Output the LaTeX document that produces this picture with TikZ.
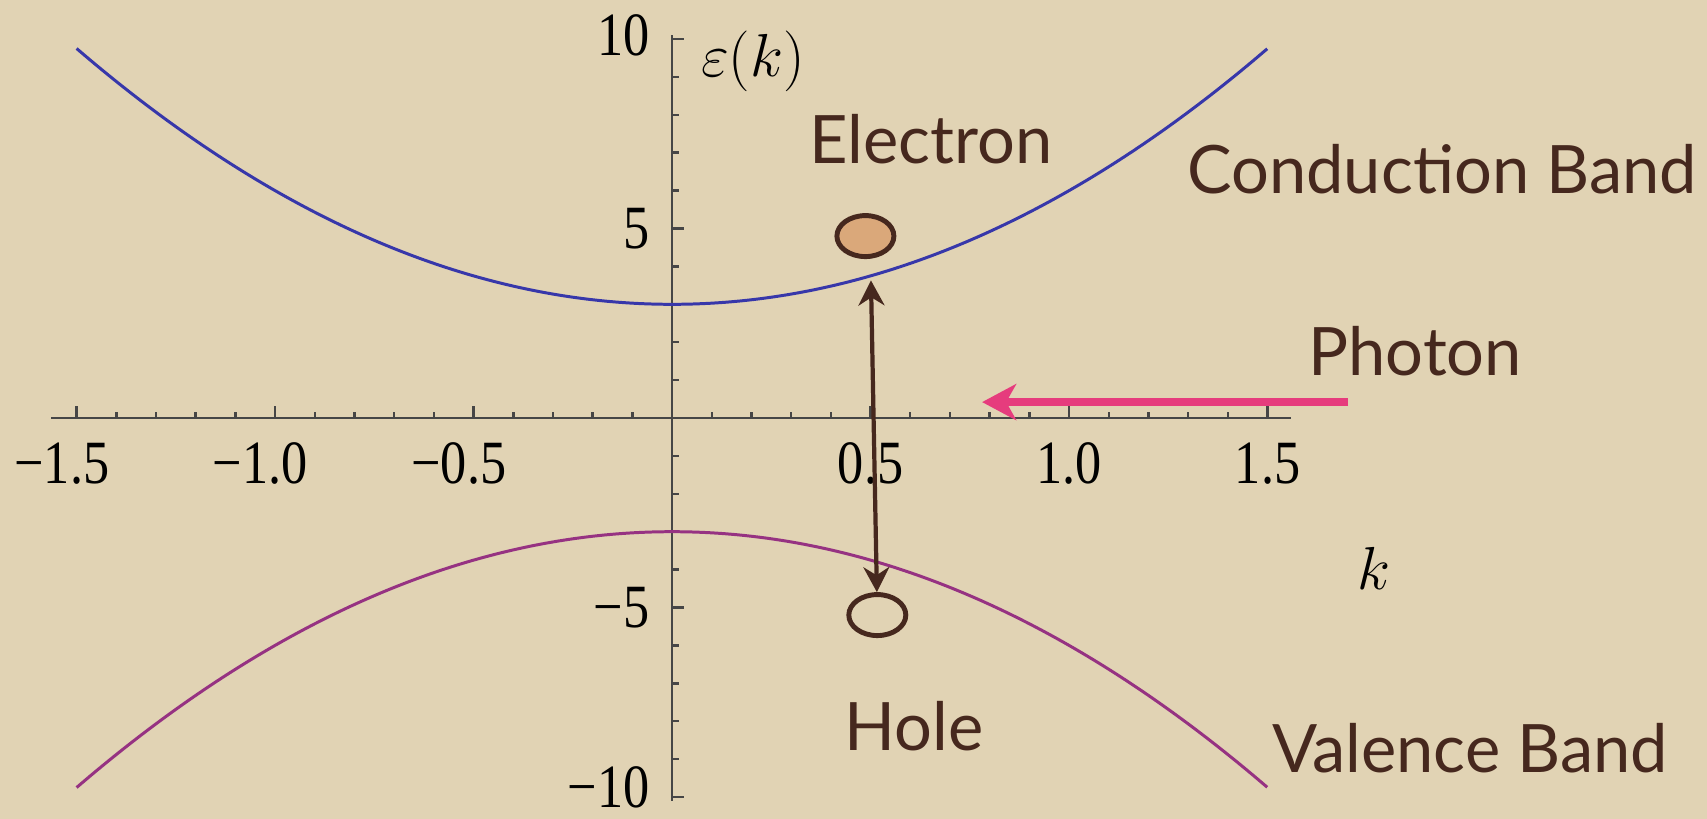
\documentclass[tikz,border=0pt]{standalone}
\usepackage[no-math]{fontspec}
\setmainfont{Liberation Serif}
\newfontfamily\handfont{Lato}
\usepackage{tikz}
\usetikzlibrary{arrows.meta,shapes.geometric}

\definecolor{paper}{RGB}{225,211,180}
\definecolor{cbandblue}{RGB}{55,55,170}
\definecolor{vbandpurple}{RGB}{150,50,130}
\definecolor{inkbrown}{RGB}{70,40,30}
\definecolor{electronfill}{RGB}{218,168,122}
\definecolor{photonpink}{RGB}{230,60,125}
\definecolor{axisgray}{RGB}{70,70,70}

\newcommand{\tnum}[1]{\scalebox{0.85}[1]{#1}}

\begin{document}
\begin{tikzpicture}[x=3.97cm, y=0.379cm,
  axisline/.style={axisgray, line width=0.7pt},
  ticklab/.style={inner sep=0pt, font=\fontsize{17.5}{20}\selectfont},
  handlab/.style={inkbrown, font=\handfont\fontsize{19}{22}\selectfont},
  carrier/.style={ellipse, draw=inkbrown, line width=1.4pt, minimum width=0.57cm, minimum height=0.41cm, inner sep=0pt}]

  % Background
  \fill[paper] (-1.693,-10.58) rectangle (2.607,11.03);
  \useasboundingbox (-1.693,-10.58) rectangle (2.607,11.03);

  % Axes and ticks
  \draw[axisline] (-1.564,0) -- (1.559,0);
  \draw[axisline] (0,-10.1) -- (0,10.1);
  \foreach \x in {-15,...,15}
    \draw[axisline] (\x/10,0) -- ++(0,0.06cm);
  \foreach \x in {-1.5,-1,-0.5,0.5,1,1.5}
    \draw[axisline] (\x,0) -- ++(0,0.12cm);
  \foreach \y in {-10,...,10}
    \draw[axisline] (0,\y) -- ++(0.07cm,0);
  \foreach \y in {-10,-5,5,10}
    \draw[axisline] (0,\y) -- ++(0.12cm,0);

  % Tick labels
  \foreach \v/\t [count=\i] in {-1.5/1.5, -1.0/1.0, -0.5/0.5}
    \node[ticklab, anchor=north] (xneg\i) at (\v,-0.63) {\tnum{\llap{−}\t}};
  \foreach \v/\t [count=\i] in {0.5/0.5, 1.0/1.0, 1.5/1.5}
    \node[ticklab, anchor=north] (xpos\i) at (\v,-0.63) {\tnum{\t}};
  \foreach \v/\t [count=\i] in {10.1/10, 5/5, -5/−5, -9.75/−10}
    \node[ticklab, anchor=east] (ylab\i) at (-0.055,\v) {\tnum{\t}};

  \node (eps) at (0.204,9.42) {\LARGE$\varepsilon(k)$};
  \node (kvar) at (1.768,-3.98) {\LARGE$k$};

  % Bands
  \draw[cbandblue, line width=0.85pt] plot[domain=-1.5:1.5, samples=80, smooth] (\x,{3+3*\x*\x});
  \draw[vbandpurple, line width=0.85pt] plot[domain=-1.5:1.5, samples=80, smooth] (\x,{-3-3*\x*\x});

  % Electron and hole
  \node[carrier, fill=electronfill] (electron) at (0.487,4.80) {};
  \node[carrier] (hole) at (0.517,-5.20) {};

  \coordinate (cbtop) at (0.501,3.63);
  \draw[{Stealth[length=0.25cm,width=0.26cm]}-{Stealth[length=0.25cm,width=0.26cm]}, inkbrown, line width=1.2pt] (cbtop) -- (hole);

  % Photon
  \coordinate (phstart) at (1.703,0.42);
  \coordinate (phtip) at (0.781,0.42);
  \draw[-{Stealth[length=0.34cm,width=0.36cm,inset=0.1cm]}, photonpink, line width=2.3pt] (phstart) -- (phtip);

  % Labels
  \node[handlab] (electronlab) at (0.652,7.36) {Electron};
  \node[handlab] (cblab) at (1.940,6.57) {Conduction Band};
  \node[handlab] (photonlab) at (1.872,1.77) {Photon};
  \node[handlab] (holelab) at (0.610,-8.13) {Hole};
  \node[handlab] (vblab) at (2.010,-8.71) {Valence Band};

\end{tikzpicture}
\end{document}
